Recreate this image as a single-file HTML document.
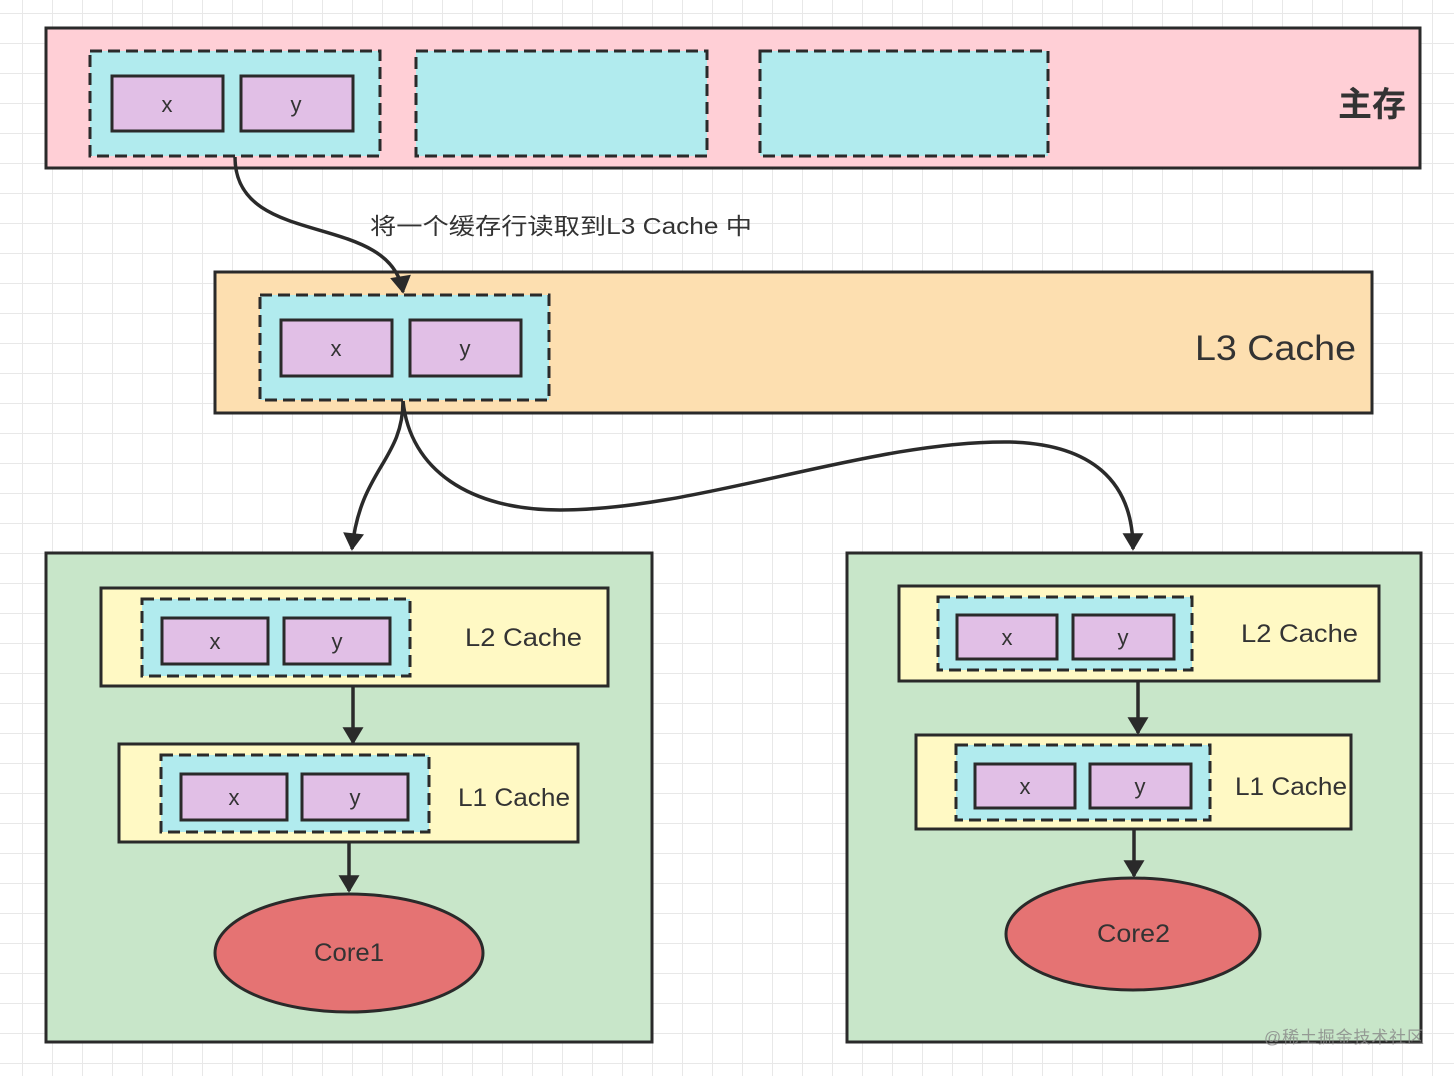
<!DOCTYPE html>
<html><head><meta charset="utf-8"><style>
html,body{margin:0;padding:0;background:#fff}
svg{display:block}
text{font-family:"Liberation Sans","Noto Sans CJK SC",sans-serif;fill:#333}
</style></head><body>
<svg width="1454" height="1076" viewBox="0 0 1454 1076" xmlns="http://www.w3.org/2000/svg">
<defs>
<pattern id="g" x="22" y="13" width="30" height="30" patternUnits="userSpaceOnUse">
<path d="M0 0H30M0 0V30" stroke="#e8e8e8" stroke-width="2" fill="none"/>
</pattern>
<marker id="a" viewBox="0 0 10 12" refX="9" refY="6" markerWidth="5.5" markerHeight="6" orient="auto" markerUnits="strokeWidth">
<path d="M0 0L10 6L0 12z" fill="#2a2a2a"/>
</marker>
</defs>
<rect width="1454" height="1076" fill="url(#g)"/>
<g stroke="#2a2a2a" stroke-width="3">
<rect x="46" y="28" width="1374" height="140" fill="#ffcfd6"/>
<g fill="#b1ebee" stroke-dasharray="12 6">
<rect x="90" y="51" width="290" height="105"/>
<rect x="416" y="51" width="291" height="105"/>
<rect x="760" y="51" width="288" height="105"/>
</g>
<g fill="#e1bfe6">
<rect x="112" y="76" width="111" height="55"/>
<rect x="241" y="76" width="112" height="55"/>
</g>
<rect x="215" y="272" width="1157" height="141" fill="#fddfb0"/>
<rect x="260" y="295" width="289" height="105" fill="#b1ebee" stroke-dasharray="12 6"/>
<g fill="#e1bfe6">
<rect x="281" y="320" width="111" height="56"/>
<rect x="410" y="320" width="111" height="56"/>
</g>
<rect x="46" y="553" width="606" height="489" fill="#c8e6c9"/>
<rect x="101" y="588" width="507" height="98" fill="#fff9c4"/>
<rect x="142" y="599" width="268" height="77" fill="#b1ebee" stroke-dasharray="12 6"/>
<rect x="119" y="744" width="459" height="98" fill="#fff9c4"/>
<rect x="161" y="755" width="268" height="77" fill="#b1ebee" stroke-dasharray="12 6"/>
<g fill="#e1bfe6">
<rect x="162" y="618" width="106" height="46"/>
<rect x="284" y="618" width="106" height="46"/>
<rect x="181" y="774" width="106" height="46"/>
<rect x="302" y="774" width="106" height="46"/>
</g>
<ellipse cx="349" cy="953" rx="134" ry="59" fill="#e57373"/>
<rect x="847" y="553" width="574" height="489" fill="#c8e6c9"/>
<rect x="899" y="586" width="480" height="95" fill="#fff9c4"/>
<rect x="938" y="597" width="254" height="73" fill="#b1ebee" stroke-dasharray="12 6"/>
<rect x="916" y="735" width="435" height="94" fill="#fff9c4"/>
<rect x="956" y="745" width="254" height="75" fill="#b1ebee" stroke-dasharray="12 6"/>
<g fill="#e1bfe6">
<rect x="957" y="615" width="100" height="44"/>
<rect x="1073" y="615" width="101" height="44"/>
<rect x="975" y="764" width="100" height="44"/>
<rect x="1090" y="764" width="101" height="44"/>
</g>
<ellipse cx="1133" cy="934" rx="127" ry="56" fill="#e57373"/>
</g>
<g stroke="#2a2a2a" stroke-width="3.5" fill="none" marker-end="url(#a)">
<path d="M235 157 C235 250 390 210 403 292"/>
<path d="M403 401 C403 460 360 470 352 549"/>
<path d="M403 401 C410 470 470 510 560 510 C700 510 870 440 1010 442 C1090 444 1133 480 1133 549"/>
<path d="M353 686 V743"/>
<path d="M349 842 V891"/>
<path d="M1138 681 V733"/>
<path d="M1134 829 V876"/>
</g>
<g font-size="22" text-anchor="middle">
<text x="167" y="112">x</text><text x="296" y="112">y</text>
<text x="336" y="356">x</text><text x="465" y="356">y</text>
<text x="215" y="649">x</text><text x="337" y="649">y</text>
<text x="234" y="805">x</text><text x="355" y="805">y</text>
<text x="1007" y="645">x</text><text x="1123" y="645">y</text>
<text x="1025" y="794">x</text><text x="1140" y="794">y</text>
</g>
<text x="1338" y="116" font-size="34" font-weight="bold" textLength="68">主存</text>
<text x="370" y="234" font-size="23" textLength="382" lengthAdjust="spacingAndGlyphs">将一个缓存行读取到L3 Cache 中</text>
<text x="1195" y="360" font-size="35" textLength="161" lengthAdjust="spacingAndGlyphs">L3 Cache</text>
<g font-size="25">
<text x="465" y="646" textLength="117" lengthAdjust="spacingAndGlyphs">L2 Cache</text>
<text x="458" y="806" textLength="112" lengthAdjust="spacingAndGlyphs">L1 Cache</text>
<text x="1241" y="642" textLength="117" lengthAdjust="spacingAndGlyphs">L2 Cache</text>
<text x="1235" y="795" textLength="112" lengthAdjust="spacingAndGlyphs">L1 Cache</text>
<text x="314" y="961" textLength="70" lengthAdjust="spacingAndGlyphs">Core1</text>
<text x="1097" y="942" textLength="73" lengthAdjust="spacingAndGlyphs">Core2</text>
</g>
<text x="1264" y="1043" font-size="17" textLength="160" style="fill:#888;opacity:.8">@稀土掘金技术社区</text>
</svg>
</body></html>
